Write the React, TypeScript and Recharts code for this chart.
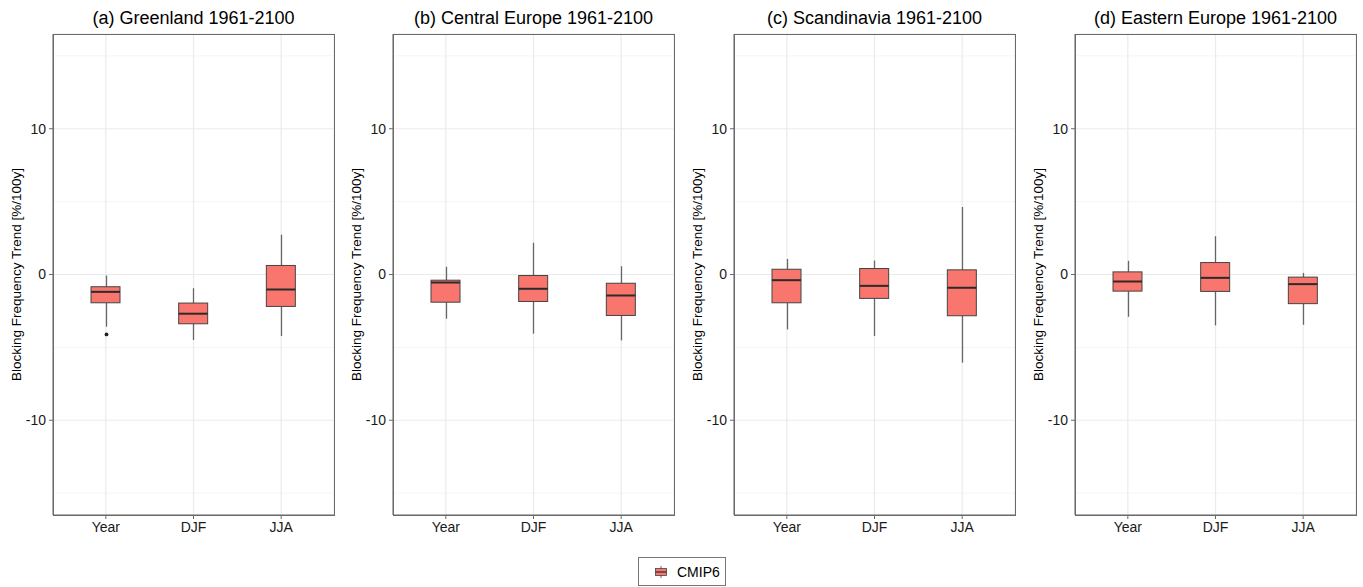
import React from 'react';
import { ComposedChart, Bar, XAxis, YAxis, CartesianGrid } from 'recharts';

const categories = ['Year', 'DJF', 'JJA'];
const panelTitles = [
  '(a) Greenland 1961-2100',
  '(b) Central Europe 1961-2100',
  '(c) Scandinavia 1961-2100',
  '(d) Eastern Europe 1961-2100',
];
const yTicks = [-10, 0, 10];
const minorGrid = [-15, -5, 5, 15];

// Box statistics per panel, in category order Year, DJF, JJA
const greenlandLower = [-3.58, -4.5, -4.22];
const greenlandQ1 = [-1.94, -3.38, -2.19];
const greenlandMedian = [-1.19, -2.69, -1.03];
const greenlandQ3 = [-0.84, -1.96, 0.62];
const greenlandUpper = [-0.07, -0.94, 2.72];
const greenlandOutliers = [[-4.11], [], []];

const centralLower = [-3.03, -4.06, -4.52];
const centralQ1 = [-1.9, -1.85, -2.81];
const centralMedian = [-0.55, -0.98, -1.44];
const centralQ3 = [-0.39, -0.07, -0.6];
const centralUpper = [0.53, 2.17, 0.57];
const centralOutliers = [[], [], []];

const scandLower = [-3.77, -4.22, -6.05];
const scandQ1 = [-1.94, -1.64, -2.83];
const scandMedian = [-0.39, -0.78, -0.91];
const scandQ3 = [0.36, 0.41, 0.32];
const scandUpper = [1.07, 0.96, 4.63];
const scandOutliers = [[], [], []];

const easternLower = [-2.9, -3.49, -3.45];
const easternQ1 = [-1.14, -1.16, -2.0];
const easternMedian = [-0.48, -0.23, -0.66];
const easternQ3 = [0.18, 0.82, -0.18];
const easternUpper = [0.94, 2.62, 0.11];
const easternOutliers = [[], [], []];

const seriesName = 'CMIP6';

const FILL = '#F8766D';
const LINE = '#444';
const FRAME = '#6a6a6a';
const FONT = '"Liberation Sans", Arial, Helvetica, sans-serif';

type Row = {
  cat: string;
  lower: number;
  q1: number;
  median: number;
  q3: number;
  upper: number;
  outliers: number[];
  range: [number, number];
};

function buildRows(lower: number[], q1: number[], med: number[], q3: number[], upper: number[], out: number[][]): Row[] {
  return categories.map((cat, i) => {
    const lo = Math.min(lower[i], ...out[i]);
    const hi = Math.max(upper[i], ...out[i]);
    return { cat, lower: lower[i], q1: q1[i], median: med[i], q3: q3[i], upper: upper[i], outliers: out[i], range: [lo, hi] };
  });
}

const panels: Row[][] = [
  buildRows(greenlandLower, greenlandQ1, greenlandMedian, greenlandQ3, greenlandUpper, greenlandOutliers),
  buildRows(centralLower, centralQ1, centralMedian, centralQ3, centralUpper, centralOutliers),
  buildRows(scandLower, scandQ1, scandMedian, scandQ3, scandUpper, scandOutliers),
  buildRows(easternLower, easternQ1, easternMedian, easternQ3, easternUpper, easternOutliers),
];

const BoxShape = (props: any) => {
  const { x, y, width, height } = props;
  const p: Row = props.payload ?? props;
  const top = Math.min(y, y + height);
  const h = Math.abs(height);
  const hi = p.range[1];
  const lo = p.range[0];
  const py = (v: number) => top + ((hi - v) / (hi - lo)) * h;
  const cx = Math.round(x + width / 2) + 0.5;
  return (
    <g>
      <line x1={cx} x2={cx} y1={py(p.upper)} y2={py(p.q3)} stroke="#666" strokeWidth={1.3} />
      <line x1={cx} x2={cx} y1={py(p.q1)} y2={py(p.lower)} stroke="#666" strokeWidth={1.3} />
      <rect x={x} y={py(p.q3)} width={width} height={py(p.q1) - py(p.q3)} fill={FILL} stroke={LINE} strokeWidth={1} />
      <line x1={x} x2={x + width} y1={py(p.median)} y2={py(p.median)} stroke="#2b2b2b" strokeWidth={2} />
      {p.outliers.map((o, i) => (
        <circle key={i} cx={cx} cy={py(o)} r={1.9} fill="#222" stroke="none" />
      ))}
    </g>
  );
};

const minorGenerator = (args: any) => {
  const s = args?.yAxis?.scale;
  if (typeof s === 'function') return minorGrid.map((v) => s(v));
  if (s && typeof s.map === 'function') return minorGrid.map((v) => s.map(v));
  return [];
};

const DOMAIN: [number, number] = [-16.5, 16.5];
const CHART_W = 341;
const CHART_H = 545;
const PLOT_LEFT = 53;
const PLOT_TOP = 34;
const PLOT_W = 281;
const PLOT_H = 481;
const panelLefts = [0, 340, 681, 1022];

function Panel({ rows, title, left }: { rows: Row[]; title: string; left: number }) {
  return (
    <div style={{ position: 'absolute', left, top: 0, width: CHART_W, height: CHART_H }}>
      <div
        style={{
          position: 'absolute',
          left: PLOT_LEFT - 20,
          width: PLOT_W + 40,
          top: 6,
          height: 24,
          lineHeight: '24px',
          textAlign: 'center',
          fontFamily: FONT,
          fontSize: 18,
          color: '#000',
          whiteSpace: 'nowrap',
        }}
      >
        {title}
      </div>
      <ComposedChart width={CHART_W} height={CHART_H} data={rows} margin={{ top: PLOT_TOP, right: CHART_W - PLOT_LEFT - PLOT_W, bottom: 0, left: 0 }}>
        <CartesianGrid
          vertical={false}
          stroke="#F3F3F3"
          strokeWidth={0.8}
          {...({ horizontalValues: minorGrid } as any)}
          horizontalCoordinatesGenerator={minorGenerator}
        />
        <CartesianGrid stroke="#EBEBEB" strokeWidth={1.2} />
        <XAxis
          dataKey="cat"
          type="category"
          height={30}
          padding={{ left: 9, right: 9 }}
          tickSize={4}
          tickMargin={3}
          axisLine={{ stroke: FRAME, strokeWidth: 1 }}
          tickLine={{ stroke: FRAME }}
          tick={{ fill: '#1a1a1a', fontSize: 14, fontFamily: FONT }}
          interval={0}
        />
        <YAxis
          type="number"
          domain={DOMAIN}
          ticks={yTicks}
          width={PLOT_LEFT}
          tickSize={4}
          tickMargin={3}
          allowDataOverflow
          axisLine={{ stroke: FRAME, strokeWidth: 1 }}
          tickLine={{ stroke: FRAME }}
          tick={{ fill: '#1a1a1a', fontSize: 14, fontFamily: FONT }}
          label={{
            value: 'Blocking Frequency Trend [%/100y]',
            angle: -90,
            position: 'insideLeft',
            offset: 16,
            style: { textAnchor: 'middle', fontSize: 13.5, fontFamily: FONT, fill: '#000' },
          }}
        />
        <Bar dataKey="range" barSize={29} shape={BoxShape} isAnimationActive={false} name={seriesName} />
      </ComposedChart>
      <div
        style={{
          position: 'absolute',
          left: PLOT_LEFT,
          top: PLOT_TOP,
          width: PLOT_W + 1,
          height: PLOT_H + 1,
          border: `1px solid ${FRAME}`,
          boxSizing: 'border-box',
          pointerEvents: 'none',
        }}
      />
    </div>
  );
}

export default function App() {
  return (
    <div style={{ position: 'absolute', left: 0, top: 0, width: 1363, height: 587, background: '#fff', overflow: 'hidden' }}>
      {panels.map((rows, i) => (
        <Panel key={i} rows={rows} title={panelTitles[i]} left={panelLefts[i]} />
      ))}
      <div
        style={{
          position: 'absolute',
          left: 638,
          top: 557,
          width: 88,
          height: 29,
          border: '1px solid #777',
          boxSizing: 'border-box',
          display: 'flex',
          alignItems: 'center',
          fontFamily: FONT,
          fontSize: 14,
          color: '#000',
        }}
      >
        <svg width={14} height={14} style={{ marginLeft: 15, marginRight: 9 }}>
          <line x1={7} x2={7} y1={1} y2={13} stroke="#666" strokeWidth={1} />
          <rect x={1.5} y={3.5} width={11} height={7} fill={FILL} stroke={LINE} strokeWidth={0.8} />
          <line x1={1.5} x2={12.5} y1={7} y2={7} stroke="#2b2b2b" strokeWidth={1.2} />
        </svg>
        <span>{seriesName}</span>
      </div>
    </div>
  );
}
